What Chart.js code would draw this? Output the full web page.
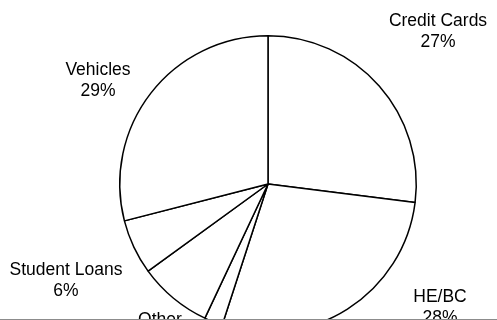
<!DOCTYPE html>
<html>
<head>
<meta charset="utf-8">
<script src="https://cdn.jsdelivr.net/npm/chart.js@4/dist/chart.umd.min.js"></script>
<style>
  html, body { margin: 0; padding: 0; background: #fff; overflow: hidden; }
  #wrap { position: relative; width: 497px; height: 340px; }
  #edge { position: absolute; left: 0; top: 319px; width: 497px; height: 1px; background: #8c8c8c; }
</style>
</head>
<body>
<div id="wrap">
  <canvas id="debtPie" width="497" height="340"></canvas>
  <div id="edge"></div>
</div>
<script>
/* Household debt by category (percent of total) */

const categories = ["Credit Cards", "HE/BC", "Bank Loans", "Other", "Student Loans", "Vehicles"];
const shares = [27, 28, 2, 8, 6, 29];

// where each two-line label sits (centre of the text block)
const labelSpots = [
  { x: 438, y: 31 },
  { x: 440, y: 307 },
  { x: 205, y: 352 },
  { x: 160, y: 330 },
  { x: 66, y: 280 },
  { x: 98, y: 80 }
];

const sliceLabels = {
  id: "sliceLabels",
  afterDraw(chart) {
    const ctx = chart.ctx;
    const total = shares.reduce((a, b) => a + b, 0);

    ctx.save();
    ctx.fillStyle = "#000";
    ctx.font = "17.5px 'Liberation Sans', Arial, sans-serif";
    ctx.textAlign = "center";
    ctx.textBaseline = "middle";

    categories.forEach((name, i) => {
      const pct = Math.round(shares[i] / total * 100) + "%";
      const spot = labelSpots[i];
      ctx.fillText(name, spot.x, spot.y - 10);
      ctx.fillText(pct, spot.x, spot.y + 11);
    });

    ctx.restore();
  }
};

new Chart(document.getElementById("debtPie"), {
  type: "pie",
  data: {
    labels: categories,
    datasets: [{
      data: shares,
      backgroundColor: "#fff",
      borderColor: "#000",
      borderWidth: 1.5
    }]
  },
  options: {
    responsive: false,
    animation: false,
    layout: {
      padding: { left: 119, right: 80, top: 35, bottom: 7 }
    },
    plugins: {
      legend: { display: false },
      tooltip: { enabled: false }
    }
  },
  plugins: [sliceLabels]
});
</script>
</body>
</html>
